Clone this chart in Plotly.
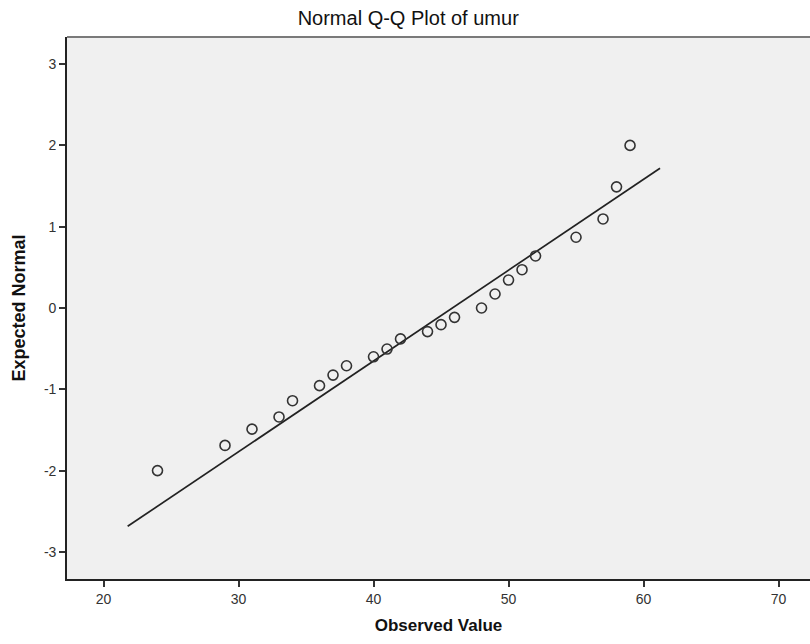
import plotly.graph_objects as go

# Observed ages (umur) and their expected normal scores
observed = [24, 29, 31, 33, 34, 36, 37, 38, 40, 41, 42, 44, 45, 46,
            48, 49, 50, 51, 52, 55, 57, 58, 59]
expected = [-2.00, -1.69, -1.49, -1.34, -1.14, -0.955, -0.825, -0.71, -0.60,
            -0.505, -0.38, -0.29, -0.205, -0.115, 0.00, 0.172, 0.344, 0.471,
            0.64, 0.87, 1.095, 1.49, 2.00]

# Reference line endpoints
line_x = [21.79, 61.22]
line_y = [-2.685, 1.718]

x_ticks = [20, 30, 40, 50, 60, 70]
y_ticks = [-3, -2, -1, 0, 1, 2, 3]
y_labels = ["-3", "-2", "-1", "0", "1", "2", "3"]

FONT = "Liberation Sans, Arial, sans-serif"

fig = go.Figure()
fig.add_trace(go.Scatter(
    x=line_x, y=line_y, mode="lines",
    line=dict(color="#222", width=1.7),
    hoverinfo="skip", showlegend=False,
))
fig.add_trace(go.Scatter(
    x=observed, y=expected, mode="markers",
    marker=dict(symbol="circle-open", size=10, color="#333",
                line=dict(width=1.6, color="#333")),
    showlegend=False,
))

fig.update_layout(
    width=810, height=644,
    margin=dict(l=67, r=0, t=37, b=65),
    paper_bgcolor="white",
    plot_bgcolor="#f0f0f0",
    font=dict(family=FONT, color="#222"),
    title=dict(text="Normal Q-Q Plot of umur", x=0.504, xanchor="center",
               y=1 - 18 / 644, yanchor="middle",
               font=dict(size=20, color="#111", family=FONT)),
    xaxis=dict(
        range=[17.296, 72.33], tickvals=x_ticks, ticks="outside", ticklen=6,
        tickwidth=1.5, tickcolor="#333", showgrid=False, zeroline=False,
        showline=True, linecolor="#222", linewidth=1.6,
        tickfont=dict(size=14, color="#333"),
        title=dict(text="<b>Observed Value</b>", standoff=14,
                   font=dict(size=17, color="#111")),
    ),
    yaxis=dict(
        range=[-3.333, 3.333], tickvals=y_ticks, ticktext=y_labels,
        ticks="outside", ticklen=6,
        tickwidth=1.5, tickcolor="#333", showgrid=False, zeroline=False,
        showline=True, linecolor="#222", linewidth=1.6,
        tickfont=dict(size=14, color="#333"),
        title=dict(text="<b>Expected Normal</b>", standoff=14,
                   font=dict(size=18, color="#111")),
    ),
    shapes=[dict(type="line", xref="paper", yref="paper", x0=0, x1=1,
                 y0=1, y1=1, line=dict(color="#7a7a7a", width=2))],
)

fig.write_html("out.html")
